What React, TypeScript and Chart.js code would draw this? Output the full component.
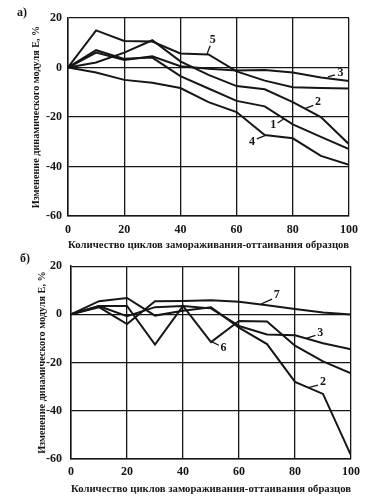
import React, { useEffect, useRef } from "react";
import { Chart, registerables } from "chart.js";
Chart.register(...registerables);

// ---------- data ----------
const cycles = [0, 10, 20, 30, 40, 50, 60, 70, 80, 90, 100];
const xTickValues = [0, 20, 40, 60, 80, 100];
const yTickValues = [-60, -40, -20, 0, 20];

const xTitle = "Количество циклов замораживания-оттаивания образцов";
const yTitle = "Изменение динамического модуля E, %";

// panel а)
const a1 = [0, 7, 3.5, 4, -3.5, -8.5, -13.5, -15.7, -23, -28, -33];
const a2 = [0, 2, 6, 11, 2.5, -3, -7.5, -8.8, -14, -20, -31];
const a3 = [0, 6, 3, 4.5, 0.5, -0.5, -1.2, -1, -2, -4, -5.5];
const a4 = [0, -2, -5, -6.2, -8.3, -14, -18, -27.3, -28.6, -35.7, -39.3];
const a5 = [0, 15, 10.7, 10.5, 5.7, 5.3, -1.6, -5.3, -8, -8.3, -8.5];

// panel б)
const b2 = [0, 5.5, 6.8, -0.5, 1.5, 3, -5.5, -12.3, -28, -33, -58.5];
const b3 = [0, 3.5, -0.7, 3, 3.5, 2.5, -4.8, -8.3, -8.7, -12, -14.5];
const b6 = [0, 3.5, 3.5, -12.5, 3.5, -11.5, -2.7, -2.9, -13, -19.5, -24.5];
const b7 = [0, 3, -4, 5.5, 5.6, 5.9, 5.2, 3.8, 2.2, 0.8, 0];

// curve labels: text anchor (tx,ty) and leader line (x1,y1)->(x2,y2), in data units
type Ann = { text: string; tx: number; ty: number; x1: number; y1: number; x2: number; y2: number };
const annsA: Ann[] = [
  { text: "5", tx: 51.5, ty: 11, x1: 50.6, y1: 8.8, x2: 49.5, y2: 5.5 },
  { text: "3", tx: 97, ty: -2.2, x1: 95, y1: -3, x2: 92.5, y2: -3.8 },
  { text: "2", tx: 89, ty: -14, x1: 87.3, y1: -15.3, x2: 84.3, y2: -16.6 },
  { text: "1", tx: 73, ty: -23.2, x1: 74.6, y1: -22.4, x2: 76.7, y2: -20.8 },
  { text: "4", tx: 65.5, ty: -30, x1: 67.2, y1: -28.8, x2: 70.3, y2: -27.4 },
];
const annsB: Ann[] = [
  { text: "7", tx: 73.5, ty: 8, x1: 71.8, y1: 6.3, x2: 68, y2: 4.4 },
  { text: "3", tx: 89, ty: -7.6, x1: 87.3, y1: -8.7, x2: 84, y2: -9.9 },
  { text: "6", tx: 54.5, ty: -14, x1: 52.8, y1: -12.8, x2: 50.4, y2: -11.4 },
  { text: "2", tx: 90, ty: -28, x1: 88.2, y1: -29.3, x2: 84.8, y2: -30.4 },
];

// ---------- styling ----------
const INK = "#161616";
const SERIF = "'Liberation Serif', 'DejaVu Serif', serif";

const annPlugin = {
  id: "anns",
  afterDatasetsDraw(chart: any, _args: any, opts: any) {
    const items: Ann[] = opts.items || [];
    const { ctx } = chart;
    const xs = chart.scales.x;
    const ys = chart.scales.y;
    ctx.save();
    ctx.strokeStyle = INK;
    ctx.fillStyle = INK;
    ctx.lineWidth = 1.3;
    ctx.font = `bold 12px ${SERIF}`;
    ctx.textAlign = "center";
    ctx.textBaseline = "middle";
    for (const a of items) {
      ctx.beginPath();
      ctx.moveTo(xs.getPixelForValue(a.x1), ys.getPixelForValue(a.y1));
      ctx.lineTo(xs.getPixelForValue(a.x2), ys.getPixelForValue(a.y2));
      ctx.stroke();
      ctx.fillText(a.text, xs.getPixelForValue(a.tx), ys.getPixelForValue(a.ty));
    }
    ctx.restore();
  },
};

interface PanelProps {
  top: number;
  height: number;
  plotLeft: number;
  plotRight: number;
  plotTop: number;
  plotBottom: number;
  series: number[][];
  anns: Ann[];
  yTitleX: number;
  xTitleY: number;
  xTickGap: number;
  yTickGap: number;
}

function Panel(p: PanelProps) {
  const ref = useRef<HTMLCanvasElement | null>(null);
  useEffect(() => {
    if (!ref.current) return;
    const W = 387;
    const tickFont = { family: SERIF, size: 12, weight: "bold" as const };
    const titleFont = { family: SERIF, size: 11.4, weight: "bold" as const, lineHeight: 1.2 };
    const yTitleFont = { family: SERIF, size: 10.2, weight: "bold" as const, lineHeight: 1.2 };
    const chart = new Chart(ref.current, {
      type: "line",
      data: {
        datasets: p.series.map((s) => ({
          data: cycles.map((c, i) => ({ x: c, y: s[i] })),
          borderColor: INK,
          borderWidth: 2,
          pointRadius: 0,
          tension: 0,
          fill: false,
        })),
      },
      plugins: [annPlugin],
      options: {
        animation: false,
        responsive: false,
        devicePixelRatio: 1,
        layout: { padding: { top: p.plotTop, right: W - p.plotRight, left: 0, bottom: 0 } },
        plugins: {
          legend: { display: false },
          tooltip: { enabled: false },
          anns: { items: p.anns },
        } as any,
        scales: {
          x: {
            type: "linear",
            min: 0,
            max: 100,
            afterBuildTicks: (s: any) => {
              s.ticks = xTickValues.map((v) => ({ value: v }));
            },
            afterFit: (s: any) => {
              s.height = p.height - p.plotBottom;
            },
            ticks: { font: tickFont, color: INK, padding: p.xTickGap, maxRotation: 0, autoSkip: false },
            grid: { color: INK, lineWidth: 1.3, drawTicks: false },
            border: { color: INK, width: 1.5 },
            title: {
              display: true,
              text: xTitle,
              color: INK,
              font: titleFont,
              padding: { top: 0, bottom: p.height - p.xTitleY - 6.8 },
            },
          },
          y: {
            type: "linear",
            min: -60,
            max: 20,
            afterBuildTicks: (s: any) => {
              s.ticks = yTickValues.map((v) => ({ value: v }));
            },
            afterFit: (s: any) => {
              s.width = p.plotLeft;
            },
            ticks: { font: tickFont, color: INK, padding: p.yTickGap },
            grid: { color: INK, lineWidth: 1.3, drawTicks: false },
            border: { color: INK, width: 1.5 },
            title: {
              display: true,
              text: yTitle,
              color: INK,
              font: yTitleFont,
              padding: { top: p.yTitleX - 6.1, bottom: 0 },
            },
          },
        },
      } as any,
    });
    return () => chart.destroy();
  }, []);
  return (
    <canvas
      ref={ref}
      width={387}
      height={p.height}
      style={{ position: "absolute", left: 0, top: p.top, width: 387, height: p.height, display: "block" }}
    />
  );
}

export default function App() {
  const letterStyle: React.CSSProperties = {
    position: "absolute",
    fontFamily: SERIF,
    fontWeight: "bold",
    fontSize: 12,
    color: INK,
    lineHeight: "12px",
  };
  return (
    <div style={{ position: "absolute", left: 0, top: 0, width: 387, height: 501, background: "#fff", overflow: "hidden" }}>
      <Panel
        top={0}
        height={260}
        plotLeft={68}
        plotRight={349}
        plotTop={18}
        plotBottom={216}
        series={[a1, a2, a3, a4, a5]}
        anns={annsA}
        yTitleX={36}
        xTitleY={245}
        xTickGap={7}
        yTickGap={6}
      />
      <Panel
        top={250}
        height={251}
        plotLeft={71}
        plotRight={351}
        plotTop={11}
        plotBottom={209}
        series={[b2, b3, b6, b7]}
        anns={annsB}
        yTitleX={42}
        xTitleY={239}
        xTickGap={6}
        yTickGap={9}
      />
      <span style={{ ...letterStyle, left: 17, top: 6 }}>а)</span>
      <span style={{ ...letterStyle, left: 20, top: 252 }}>б)</span>
    </div>
  );
}
